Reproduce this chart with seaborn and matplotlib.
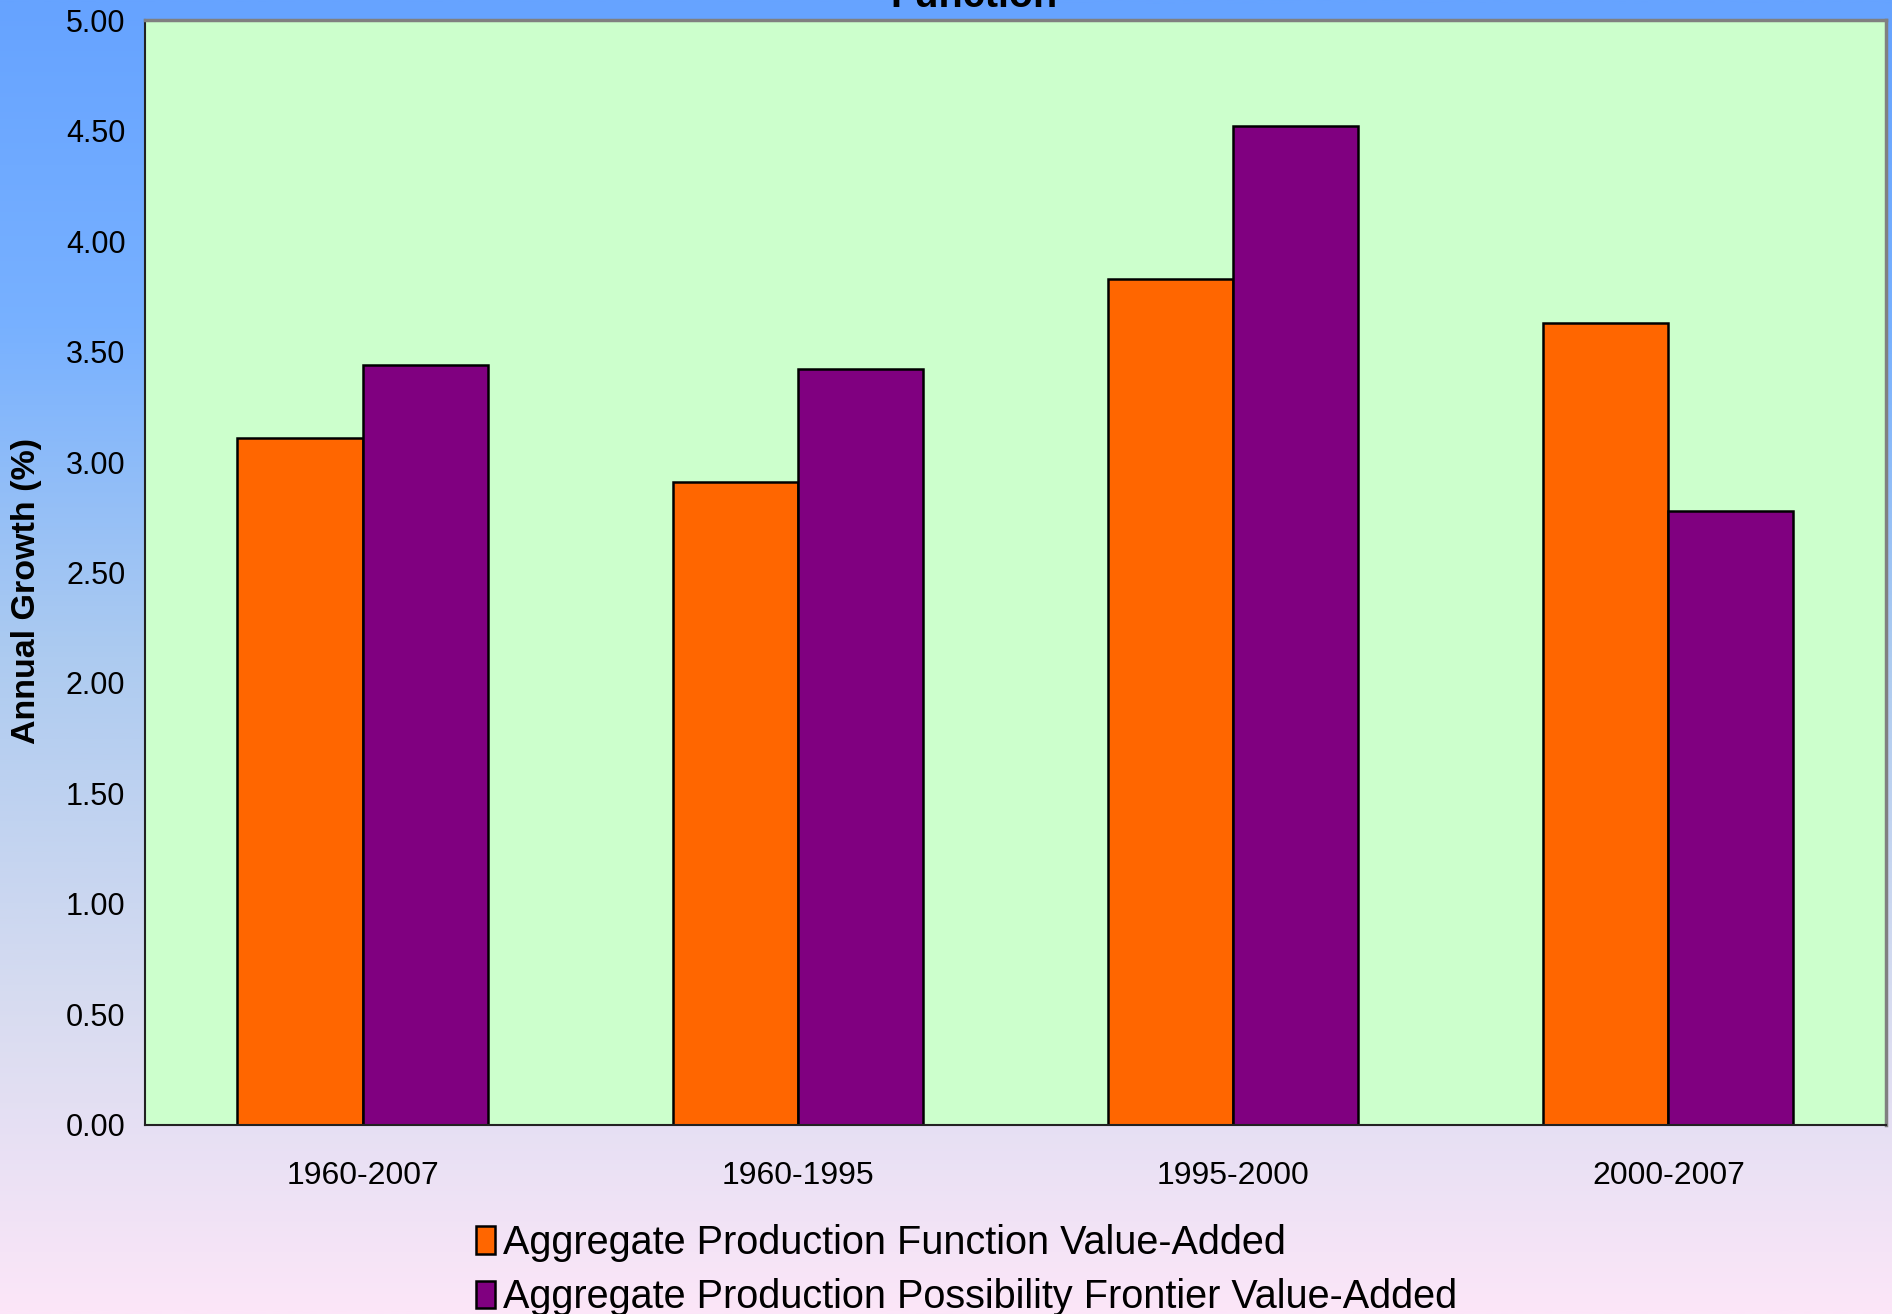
import matplotlib
matplotlib.use("Agg")
import matplotlib.pyplot as plt
from matplotlib.colors import LinearSegmentedColormap
from matplotlib.ticker import FixedLocator, FormatStrFormatter
import seaborn as sns
import numpy as np
import pandas as pd

# Chart data
periods = ["1960-2007", "1960-1995", "1995-2000", "2000-2007"]
series_names = [
    "Aggregate Production Function Value-Added",
    "Aggregate Production Possibility Frontier Value-Added",
]
apf_values = [3.11, 2.91, 3.83, 3.63]
appf_values = [3.44, 3.42, 4.52, 2.78]
y_ticks = [0.0, 0.5, 1.0, 1.5, 2.0, 2.5, 3.0, 3.5, 4.0, 4.5, 5.0]

df = pd.DataFrame(
    {
        "period": periods * 2,
        "growth": apf_values + appf_values,
        "series": [series_names[0]] * len(periods) + [series_names[1]] * len(periods),
    }
)

sns.set_style("white")
plt.rcParams["font.family"] = ["Liberation Sans", "DejaVu Sans"]
plt.rcParams["text.color"] = "black"
plt.rcParams["axes.labelcolor"] = "black"
plt.rcParams["xtick.color"] = "black"
plt.rcParams["ytick.color"] = "black"

fig = plt.figure(figsize=(18.92, 13.14), dpi=100)

# Gradient background (blue at top fading to pink at bottom)
bg = fig.add_axes([0, 0, 1, 1], zorder=-10)
grad_cmap = LinearSegmentedColormap.from_list(
    "bg", ["#66A3FF", "#78B1FF", "#ADCBF0", "#D5DBF0", "#FCE6F8"]
)
grad = np.linspace(0, 1, 512).reshape(-1, 1)
bg.imshow(grad, aspect="auto", cmap=grad_cmap, extent=[0, 1, 0, 1])
bg.axis("off")

ax = fig.add_axes([0.0766, 0.1442, 0.9202, 0.8402])
ax.set_facecolor("#CCFFCC")

sns.barplot(
    data=df,
    x="period",
    y="growth",
    hue="series",
    palette=["#FF6600", "#800080"],
    width=0.575,
    edgecolor="black",
    linewidth=1.8,
    saturation=1,
    ax=ax,
)

ax.set_xlim(-0.5, 3.5)
ax.set_ylim(0, 5)
ax.yaxis.set_major_locator(FixedLocator(y_ticks))
ax.yaxis.set_major_formatter(FormatStrFormatter("%.2f"))

# Excel-style ticks: marks between categories, labels centered
ax.xaxis.set_minor_locator(FixedLocator(np.arange(-0.5, 4.0, 1.0)))
ax.tick_params(axis="x", which="major", length=0, labelsize=23, pad=26)
ax.tick_params(axis="x", which="minor", length=8, width=1.2, color="#333333", direction="out")
ax.tick_params(axis="y", length=8, width=1.2, color="#333333", direction="out", labelsize=22, pad=6)

ax.set_xlabel("")
ax.set_ylabel("Annual Growth (%)", fontsize=24.5, fontweight="bold")
ax.yaxis.set_label_coords(-0.059, 0.483)

for side in ["left", "bottom"]:
    ax.spines[side].set_color("#222222")
    ax.spines[side].set_linewidth(1.5)
for side in ["top", "right"]:
    ax.spines[side].set_color("#808080")
    ax.spines[side].set_linewidth(2.5)

handles, labels = ax.get_legend_handles_labels()
ax.legend_.remove()
fig.legend(
    handles,
    labels,
    loc="upper left",
    bbox_to_anchor=(0.243, 1 - 1208 / 1314),
    frameon=False,
    fontsize=28.5,
    handlelength=0.5,
    handleheight=0.7,
    handletextpad=0.2,
    labelspacing=0.42,
    borderaxespad=0,
)

# Title, mostly cut off at the top edge of the picture
fig.text(0.515, 1 - 7 / 1314, "Function", ha="center", va="baseline",
         fontsize=28.5, fontweight="bold")

plt.savefig("out.png", dpi=100)
